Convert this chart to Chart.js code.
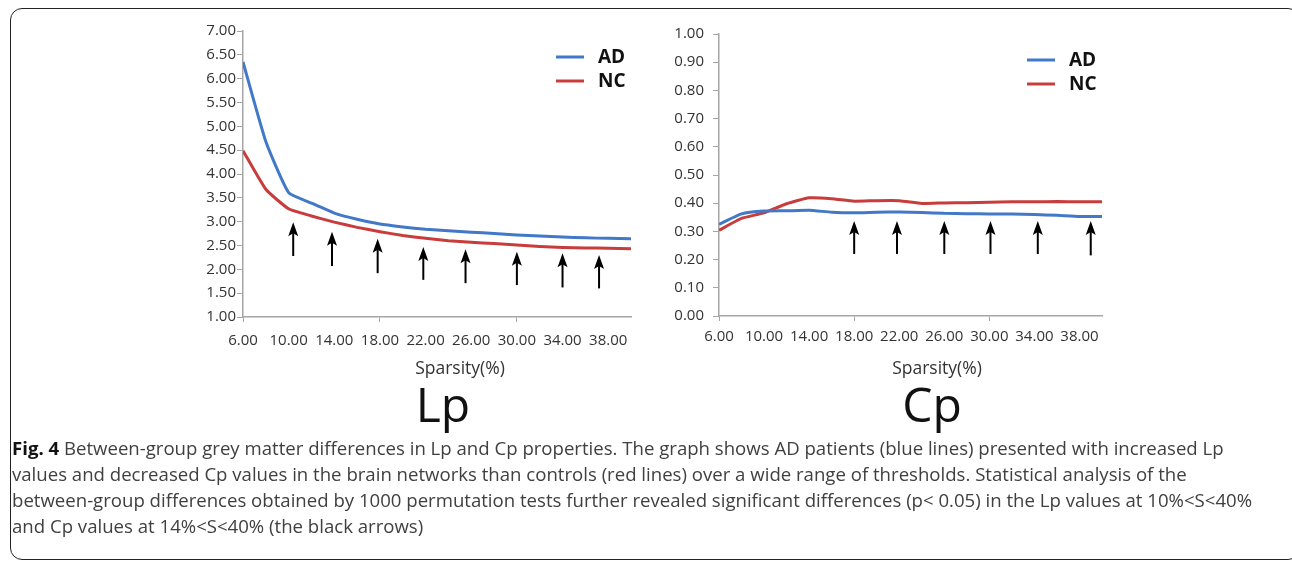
<!DOCTYPE html>
<html>
<head>
<meta charset="utf-8">
<script src="https://cdn.jsdelivr.net/npm/chart.js@4.4.1/dist/chart.umd.min.js"></script>
<style>
  body { margin: 0; width: 1292px; height: 565px; background: #fff; overflow: hidden; position: relative; font-family: "Open Sans", sans-serif; }
  #frame { position: absolute; left: 10px; top: 8px; width: 1290px; height: 552px; border: 1.5px solid #222; border-radius: 12px; box-sizing: border-box; }
  .box { position: absolute; width: 480px; height: 345px; }
  #lpBox { left: 170px; top: 16px; }
  #cpBox { left: 640px; top: 16px; }
  .axis-title { position: absolute; top: 357px; width: 200px; font-size: 17.5px; line-height: 20px; color: #333; text-align: center; }
  .big { position: absolute; top: 380px; width: 200px; font-size: 48px; line-height: 48px; color: #111; text-align: center; }
  #caption { position: absolute; left: 12px; top: 435px; font-size: 18.6px; line-height: 26px; color: #404040; white-space: nowrap; }
  #caption b { color: #111; }
</style>
</head>
<body>
<div id="frame"></div>
<div class="box" id="lpBox"><canvas id="lpChart"></canvas></div>
<div class="box" id="cpBox"><canvas id="cpChart"></canvas></div>
<div class="axis-title" style="left:360px">Sparsity(%)</div>
<div class="axis-title" style="left:837px">Sparsity(%)</div>
<div class="big" style="left:343px">Lp</div>
<div class="big" style="left:832px">Cp</div>
<div id="caption"><b>Fig. 4</b> Between-group grey matter differences in Lp and Cp properties. The graph shows AD patients (blue lines) presented with increased Lp<br>values and decreased Cp values in the brain networks than controls (red lines) over a wide range of thresholds. Statistical analysis of the<br>between-group differences obtained by 1000 permutation tests further revealed significant differences (p&lt; 0.05) in the Lp values at 10%&lt;S&lt;40%<br>and Cp values at 14%&lt;S&lt;40% (the black arrows)</div>

<script>
// Sparsity thresholds (%)
const sparsity = [6, 8, 10, 12, 14, 16, 18, 20, 22, 24, 26, 28, 30, 32, 34, 36, 38, 40];

// Characteristic path length
const lpAD = [6.35, 4.68, 3.61, 3.39, 3.18, 3.05, 2.95, 2.89, 2.84, 2.81, 2.78, 2.75, 2.72, 2.70, 2.68, 2.66, 2.65, 2.64];
const lpNC = [4.49, 3.68, 3.27, 3.12, 2.99, 2.88, 2.79, 2.71, 2.65, 2.60, 2.57, 2.54, 2.51, 2.48, 2.46, 2.45, 2.44, 2.43];

// Clustering coefficient
const cpAD = [0.325, 0.362, 0.372, 0.373, 0.375, 0.368, 0.366, 0.368, 0.369, 0.367, 0.364, 0.363, 0.362, 0.362, 0.360, 0.357, 0.353, 0.353];
const cpNC = [0.304, 0.346, 0.366, 0.398, 0.419, 0.416, 0.407, 0.409, 0.409, 0.399, 0.401, 0.402, 0.403, 0.405, 0.405, 0.406, 0.405, 0.405];

// Tick labels
const xTickValues = [6, 10, 14, 18, 22, 26, 30, 34, 38];
const xTickMarks = [6, 18, 30];
const lpYTicks = [1.0, 1.5, 2.0, 2.5, 3.0, 3.5, 4.0, 4.5, 5.0, 5.5, 6.0, 6.5, 7.0];
const cpYTicks = [0.0, 0.1, 0.2, 0.3, 0.4, 0.5, 0.6, 0.7, 0.8, 0.9, 1.0];

// Significance arrows (sparsity, arrow tip, arrow tail)
const lpArrowX = [10.4, 13.8, 17.8, 21.8, 25.5, 30.0, 34.0, 37.2];
const lpArrowTop = [2.99, 2.79, 2.64, 2.47, 2.42, 2.37, 2.34, 2.30];
const lpArrowBottom = [2.28, 2.07, 1.92, 1.78, 1.71, 1.67, 1.62, 1.60];
const cpArrowX = [18.0, 21.8, 26.0, 30.1, 34.3, 39.0];
const cpArrowTop = [0.337, 0.337, 0.337, 0.337, 0.337, 0.337];
const cpArrowBottom = [0.22, 0.22, 0.22, 0.22, 0.22, 0.215];

const BLUE = "#4178c8";
const RED = "#c83c3c";
const AXIS = "#a6a6a6";

const toPoints = (ys) => ys.map((y, i) => ({ x: sparsity[i], y: y }));

// Arrows + little legend drawn inside the plot
const arrowsAndLegend = {
  id: "arrowsAndLegend",
  afterDatasetsDraw(chart, args, opts) {
    const { ctx, chartArea, scales } = chart;
    ctx.save();
    ctx.strokeStyle = "#000";
    ctx.fillStyle = "#000";
    ctx.lineWidth = 2;
    opts.xs.forEach((xv, i) => {
      const px = scales.x.getPixelForValue(xv);
      const top = scales.y.getPixelForValue(opts.tops[i]);
      const bot = scales.y.getPixelForValue(opts.bottoms[i]);
      ctx.beginPath();
      ctx.moveTo(px, bot);
      ctx.lineTo(px, top + 10);
      ctx.stroke();
      ctx.beginPath();
      ctx.moveTo(px, top);
      ctx.lineTo(px - 5, top + 14);
      ctx.lineTo(px, top + 11);
      ctx.lineTo(px + 5, top + 14);
      ctx.closePath();
      ctx.fill();
    });

    chart.data.datasets.forEach((ds, i) => {
      const ly = chartArea.top + 26 + i * 24;
      ctx.strokeStyle = ds.borderColor;
      ctx.lineWidth = 3;
      ctx.beginPath();
      ctx.moveTo(chartArea.right - 75, ly);
      ctx.lineTo(chartArea.right - 47, ly);
      ctx.stroke();
      ctx.fillStyle = "#111";
      ctx.font = 'bold 19px "Open Sans"';
      ctx.textBaseline = "middle";
      ctx.fillText(ds.label, chartArea.right - 33, ly + 1);
    });
    ctx.restore();
  },
};

function makeChart(id, adData, ncData, yTicks, digits, layout, arrows) {
  return new Chart(document.getElementById(id), {
    type: "line",
    data: {
      datasets: [
        { label: "AD", data: toPoints(adData), borderColor: BLUE, borderWidth: 3, pointRadius: 0, tension: 0.15 },
        { label: "NC", data: toPoints(ncData), borderColor: RED, borderWidth: 3, pointRadius: 0, tension: 0.15 },
      ],
    },
    options: {
      responsive: true,
      maintainAspectRatio: false,
      animation: false,
      layout: { padding: { top: 15, right: layout.right, left: 0, bottom: 0 } },
      plugins: {
        legend: { display: false },
        tooltip: { enabled: false },
        arrowsAndLegend: arrows,
      },
      scales: {
        x: {
          type: "linear",
          min: 6,
          max: 40,
          afterBuildTicks: (s) => { s.ticks = xTickValues.map((v) => ({ value: v })); },
          afterFit: (s) => { s.height = layout.xHeight; },
          border: { color: AXIS, width: 1.5 },
          grid: {
            drawOnChartArea: false,
            drawTicks: true,
            tickLength: 5,
            tickColor: (c) => (c.tick && xTickMarks.includes(c.tick.value) ? AXIS : "rgba(0,0,0,0)"),
          },
          ticks: {
            autoSkip: false,
            maxRotation: 0,
            padding: layout.xPad,
            color: "#333",
            font: { family: "Open Sans", size: 15 },
            callback: (v) => Number(v).toFixed(2),
          },
        },
        y: {
          min: yTicks[0],
          max: yTicks[yTicks.length - 1],
          afterBuildTicks: (s) => { s.ticks = yTicks.map((v) => ({ value: v })); },
          afterFit: (s) => { s.width = layout.yWidth; },
          border: { color: AXIS, width: 1.5 },
          grid: { drawOnChartArea: false, drawTicks: true, tickLength: 6, tickColor: AXIS },
          ticks: {
            padding: layout.yPad,
            color: "#333",
            font: { family: "Open Sans", size: 15 },
            callback: (v) => Number(v).toFixed(digits),
          },
        },
      },
    },
    plugins: [arrowsAndLegend],
  });
}

makeChart("lpChart", lpAD, lpNC, lpYTicks, 2,
  { right: 19, xHeight: 44, xPad: 10, yWidth: 73, yPad: 1 },
  { xs: lpArrowX, tops: lpArrowTop, bottoms: lpArrowBottom });

makeChart("cpChart", cpAD, cpNC, cpYTicks, 2,
  { right: 18, xHeight: 45, xPad: 7, yWidth: 79, yPad: 9 },
  { xs: cpArrowX, tops: cpArrowTop, bottoms: cpArrowBottom });
</script>
</body>
</html>
